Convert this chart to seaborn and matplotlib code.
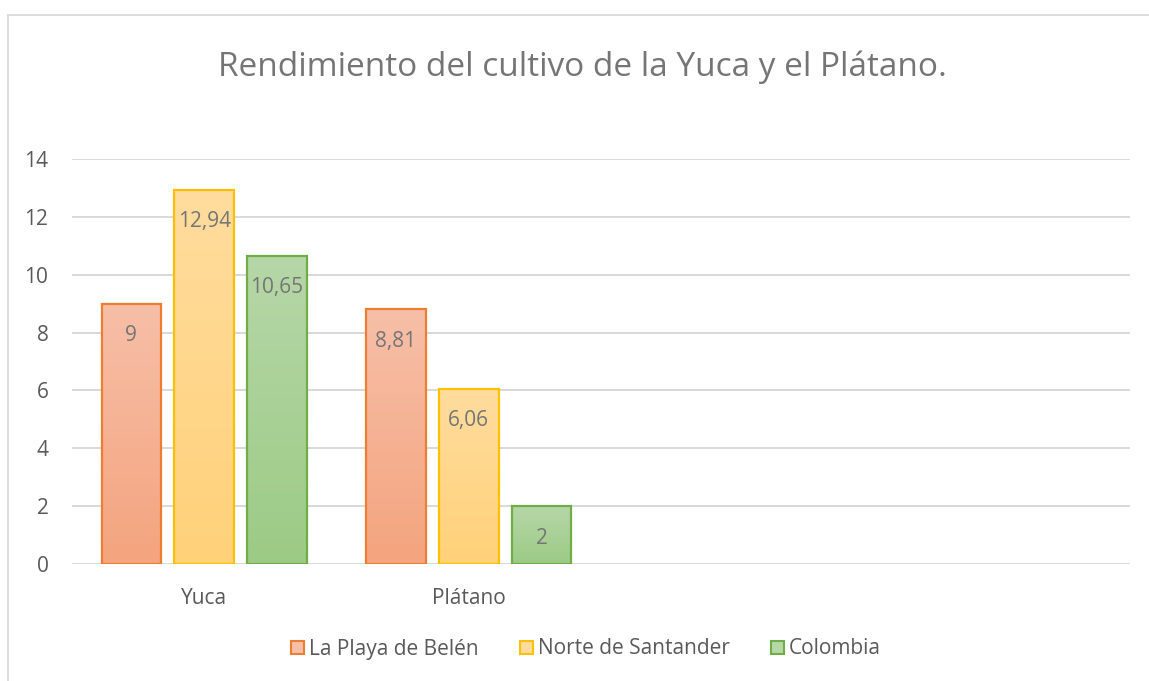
import matplotlib
matplotlib.use("Agg")
import matplotlib.pyplot as plt
import seaborn as sns
import pandas as pd
import numpy as np
from matplotlib.colors import LinearSegmentedColormap
from matplotlib.patches import Patch
from matplotlib.lines import Line2D

categories = ["Yuca", "Plátano"]
series = ["La Playa de Belén", "Norte de Santander", "Colombia"]
playa = [9, 8.81]
norte = [12.94, 6.06]
colombia = [10.65, 2]
labels_txt = {"La Playa de Belén": ["9", "8,81"],
              "Norte de Santander": ["12,94", "6,06"],
              "Colombia": ["10,65", "2"]}
yticks = [0, 2, 4, 6, 8, 10, 12, 14]

edge_cols = ["#ED7D31", "#FFC000", "#70AD47"]
top_cols = ["#F7BFA8", "#FFDC9E", "#B6D7A8"]
bot_cols = ["#F4A47E", "#FFD179", "#9CCB85"]

rows = []
for s, vals in zip(series, [playa, norte, colombia]):
    for c, v in zip(categories, vals):
        rows.append({"cat": c, "serie": s, "val": v})
df = pd.DataFrame(rows)

sns.set_style("white")
FONT = ["Open Sans", "DejaVu Sans"]
plt.rcParams["font.family"] = FONT

FS = 15
fig = plt.figure(figsize=(11.49, 6.81), dpi=100)
ax = fig.add_axes([72/1149, 1-564/681, (1130-72)/1149, (564-159)/681])

sns.barplot(data=df, x="cat", y="val", hue="serie", order=categories,
            hue_order=series, palette=edge_cols, width=0.8265, gap=0.18,
            ax=ax, legend=False)

ax.set_xlim(-0.5, 3.5)
ax.set_ylim(0, 14)
ax.set_yticks(yticks)
ax.set_yticklabels([str(t) for t in yticks])
ax.yaxis.grid(True, color="#D9D9D9", linewidth=1.4)
ax.set_axisbelow(True)
for sp in ax.spines.values():
    sp.set_visible(False)
ax.tick_params(axis="both", length=0, labelsize=FS, labelcolor="#595959")
ax.tick_params(axis="y", pad=17)
ax.tick_params(axis="x", pad=17)
ax.set_xlabel("")
ax.set_ylabel("")

# gradient fills
grad = np.linspace(0, 1, 256).reshape(-1, 1)
for i, cont in enumerate(ax.containers):
    cmap = LinearSegmentedColormap.from_list("g%d" % i, [bot_cols[i], top_cols[i]])
    s = series[i]
    for j, p in enumerate(cont.patches):
        x0, y0 = p.get_x(), p.get_y()
        w, h = p.get_width(), p.get_height()
        p.set_facecolor("none")
        p.set_edgecolor(edge_cols[i])
        p.set_linewidth(1.6)
        p.set_zorder(3)
        im = ax.imshow(grad, extent=[x0, x0 + w, y0, y0 + h], origin="lower",
                       cmap=cmap, aspect="auto", zorder=2, interpolation="bicubic")
        im.set_clip_path(p)
        ax.annotate(labels_txt[s][j], xy=(x0 + w/2, y0 + h), xytext=(0, -23),
                    textcoords="offset points", ha="center", va="center",
                    fontsize=FS, color="#757575", zorder=4)
ax.set_xlim(-0.5, 3.5)
ax.set_ylim(0, 14)

fig.text(582/1149, 1-67/681, "Rendimiento del cultivo de la Yuca y el Plátano.",
         ha="center", va="center", fontsize=24, color="#757575")

handles = [Patch(facecolor=top_cols[i], edgecolor=edge_cols[i], linewidth=1.5)
           for i in range(3)]
leg = fig.legend(handles, series, loc="center", bbox_to_anchor=(586/1149, 1-649/681),
                 ncol=3, frameon=False, fontsize=FS, handlelength=0.6,
                 handleheight=0.6, handletextpad=0.25, columnspacing=2.0)
for t in leg.get_texts():
    t.set_color("#595959")

# chart border
fig.add_artist(Line2D([8/1149, 8/1149], [0, 1-15/681], transform=fig.transFigure,
                      color="#D9D9D9", linewidth=1.3))
fig.add_artist(Line2D([8/1149, 1], [1-15/681, 1-15/681], transform=fig.transFigure,
                      color="#D9D9D9", linewidth=1.3))

fig.savefig("out.png", dpi=100)
